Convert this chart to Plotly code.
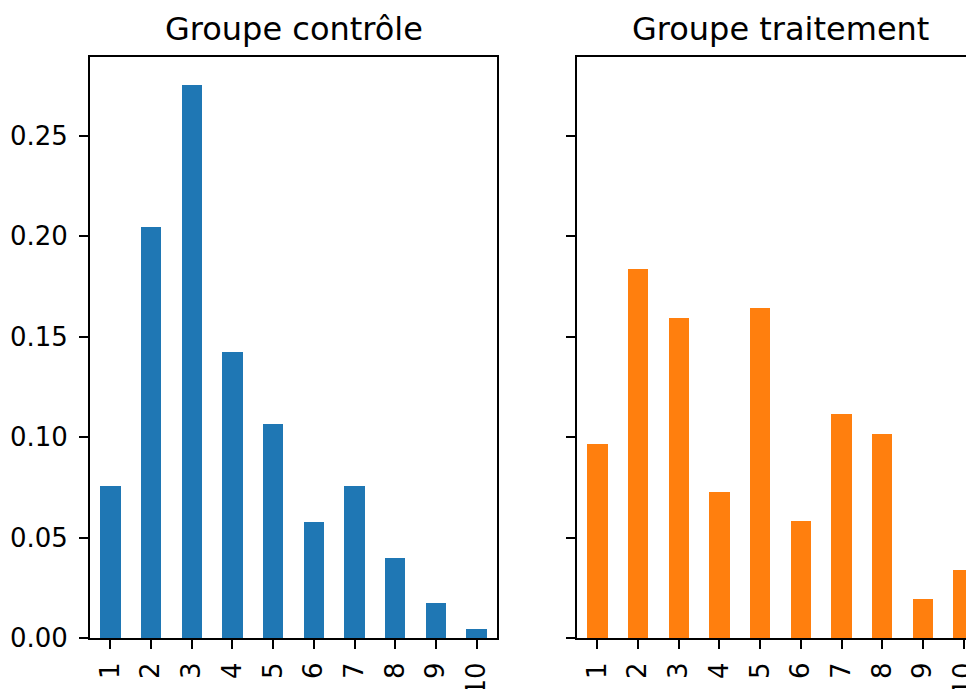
import plotly.graph_objects as go

categories = ["1", "2", "3", "4", "5", "6", "7", "8", "9", "10"]
controle = [0.0757, 0.2045, 0.2755, 0.1424, 0.1066, 0.0578, 0.0757, 0.0398, 0.0176, 0.0045]
traitement = [0.0966, 0.1838, 0.1594, 0.0727, 0.1643, 0.0583, 0.1113, 0.1016, 0.0194, 0.0339]
titles = ["Groupe contrôle", "Groupe traitement"]
colors = ["#1f77b4", "#ff7f0e"]
yticks = [0.0, 0.05, 0.10, 0.15, 0.20, 0.25]
ytick_text = ["0.00", "0.05", "0.10", "0.15", "0.20", "0.25"]

# page body has an 8px margin; compensate
W, H = 966, 681
ml, mt, mb, mr = 82, 49, 51, 0
pw = W - ml - mr
ax_w = 407
gap_left = 569 - ml

fig = go.Figure()
fig.add_trace(go.Bar(x=categories, y=controle, marker=dict(color=colors[0], line=dict(width=0)),
                     width=0.5, xaxis="x", yaxis="y", showlegend=False))
fig.add_trace(go.Bar(x=categories, y=traitement, marker=dict(color=colors[1], line=dict(width=0)),
                     width=0.5, xaxis="x2", yaxis="y2", showlegend=False))

font = dict(family="DejaVu Sans", size=26, color="black")
ymax = max(max(controle), max(traitement)) * 1.05
cat_px = ax_w / 10.0
right_end = -0.5 + (pw - gap_left) / cat_px

common_x = dict(type="category", showline=True, linecolor="black", linewidth=2,
                ticks="outside", ticklen=9, tickwidth=2, tickcolor="black",
                tickangle=-90, showgrid=False, zeroline=False, tickfont=font,
                ticklabelstandoff=3, fixedrange=True, automargin=False)
common_y = dict(range=[0, ymax], showline=True, linecolor="black", linewidth=2,
                ticks="outside", ticklen=9, tickwidth=2, tickcolor="black",
                tickvals=yticks, ticktext=ytick_text, showgrid=False, zeroline=False,
                tickfont=font, ticklabelstandoff=6, automargin=False)

fig.update_layout(
    width=W, height=H,
    margin=dict(l=ml, r=mr, t=mt, b=mb),
    paper_bgcolor="white", plot_bgcolor="white",
    font=font,
    bargap=0,
    xaxis=dict(common_x, domain=[0, ax_w / pw], range=[-0.5, 9.5], mirror=True, anchor="y"),
    yaxis=dict(common_y, domain=[0, 1], mirror=True, anchor="x"),
    xaxis2=dict(common_x, domain=[gap_left / pw, 1], range=[-0.5, right_end], mirror=True, anchor="y2"),
    yaxis2=dict(common_y, domain=[0, 1], mirror=False, anchor="x2", showticklabels=False),
)

centers = [(0 + ax_w / 2) / pw, (gap_left + ax_w / 2) / pw]
for t, cx in zip(titles, centers):
    fig.add_annotation(text=t, x=cx, y=1, xref="paper", yref="paper",
                       xanchor="center", yanchor="bottom", yshift=7, showarrow=False,
                       font=dict(family="DejaVu Sans", size=32, color="black"))

fig.write_html("out.html")
